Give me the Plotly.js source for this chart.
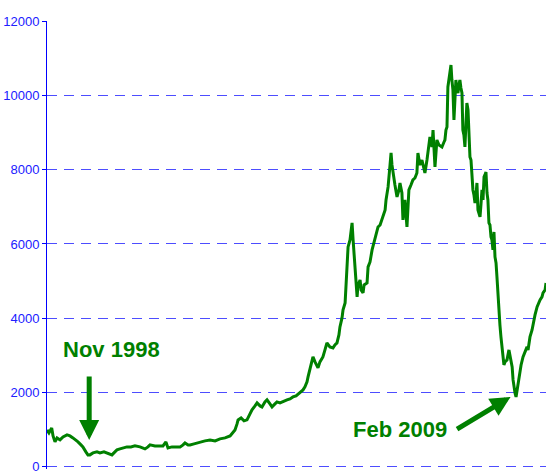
<!DOCTYPE html>
<html>
<head>
<meta charset="utf-8">
<script src="https://cdn.plot.ly/plotly-3.0.1.min.js"></script>
<style>html,body{margin:0;padding:0;background:#fff;}#chart{width:546px;height:473px;}</style>
</head>
<body>
<div id="chart"></div>
<script>
var dates = ['1997-12-01','1997-12-18','1998-01-11','1998-01-23','1998-02-09','1998-02-27','1998-03-25','1998-04-20','1998-05-25','1998-06-20','1998-07-16','1998-08-11','1998-08-29','1998-09-24','1998-10-11','1998-11-06','1998-11-24','1998-12-11',
'1999-01-07','1999-02-11','1999-03-09','1999-04-13','1999-05-09','1999-06-04','1999-06-22','1999-07-18','1999-08-05','1999-08-31','1999-10-05','1999-10-31','1999-12-05',
'2000-01-09','2000-02-22','2000-03-19','2000-04-06','2000-05-02','2000-05-20','2000-07-02','2000-08-06','2000-09-10','2000-10-06','2000-10-24','2000-11-28',
'2001-01-03','2001-02-07','2001-03-05','2001-03-22','2001-04-18','2001-05-05','2001-06-09','2001-07-05','2001-07-31','2001-09-13','2001-10-27','2001-12-10',
'2002-01-22','2002-03-07','2002-04-20','2002-05-16','2002-06-02','2002-06-20','2002-06-29','2002-07-25','2002-08-20','2002-09-15','2002-10-12','2002-10-29','2002-11-24','2002-12-12',
'2003-01-07','2003-01-24','2003-02-19','2003-03-09','2003-04-04','2003-04-22','2003-05-18','2003-06-04','2003-07-01','2003-08-05','2003-08-31','2003-09-26','2003-10-22','2003-11-18','2003-12-23',
'2004-01-18','2004-02-04','2004-02-22','2004-03-02','2004-03-19','2004-04-14','2004-05-02','2004-05-28','2004-06-14','2004-07-10','2004-07-28','2004-08-14','2004-09-09','2004-10-06','2004-10-23','2004-11-10','2004-11-27','2004-12-06','2004-12-24',
'2005-01-02','2005-01-20','2005-02-06','2005-02-15','2005-03-04','2005-03-13','2005-03-22','2005-03-31','2005-04-08','2005-04-17','2005-04-26','2005-05-05','2005-05-13','2005-05-31','2005-06-09','2005-06-26','2005-07-05','2005-07-31','2005-08-09','2005-08-26','2005-09-13','2005-10-09','2005-11-04','2005-11-22','2005-12-18',
'2006-01-05','2006-01-13','2006-01-31','2006-02-17','2006-02-26','2006-03-06','2006-03-15','2006-04-01','2006-04-19','2006-05-06','2006-05-15','2006-06-01','2006-06-10','2006-06-19','2006-06-27','2006-07-15','2006-07-24','2006-08-01','2006-08-19','2006-09-05','2006-09-23','2006-10-10','2006-10-19','2006-10-28','2006-11-05','2006-11-23','2006-12-11','2006-12-19',
'2007-01-06','2007-01-15','2007-02-01','2007-02-19','2007-02-28','2007-03-17','2007-03-26','2007-04-03','2007-04-21','2007-05-17','2007-06-04','2007-06-12','2007-06-21','2007-06-30','2007-07-08','2007-07-17','2007-08-04','2007-08-12','2007-08-21','2007-08-30','2007-09-07','2007-09-16','2007-09-25','2007-10-04','2007-10-12','2007-10-21','2007-10-30','2007-11-08','2007-11-16','2007-11-25','2007-12-04','2007-12-12','2007-12-21','2007-12-31',
'2008-01-09','2008-01-17','2008-01-26','2008-02-04','2008-02-12','2008-02-21','2008-03-01','2008-03-10','2008-03-18','2008-03-27','2008-04-05','2008-04-14','2008-04-22','2008-05-01','2008-05-10','2008-05-19','2008-05-27','2008-06-05','2008-06-14','2008-06-22','2008-07-01','2008-07-10','2008-07-19','2008-07-27','2008-08-05','2008-08-14','2008-08-23','2008-09-01','2008-09-09','2008-09-18','2008-09-27','2008-10-05','2008-10-14','2008-10-23','2008-11-01','2008-11-09','2008-11-18','2008-12-06','2008-12-23',
'2009-01-02','2009-01-20','2009-01-28','2009-02-06','2009-02-14','2009-02-23','2009-03-04','2009-03-12','2009-03-21','2009-03-30','2009-04-08','2009-04-25','2009-05-13','2009-05-30','2009-06-08','2009-06-25','2009-07-13','2009-07-22','2009-08-08','2009-08-26','2009-09-12','2009-09-21','2009-10-08','2009-10-17','2009-11-04','2009-11-12'];

var values = [995,915,1049,834,673,780,726,807,861,834,780,726,673,592,538,404,323,323,
377,404,377,404,377,350,323,404,457,484,511,538,538,
565,538,511,484,538,592,565,565,565,673,511,538,
538,538,592,646,592,592,619,646,673,700,726,700,
753,780,834,915,995,1157,1265,1318,1238,1265,1453,1534,1641,1722,
1641,1614,1749,1803,1695,1614,1695,1749,1722,1776,1803,1830,1883,1910,1991,
2072,2152,2287,2422,2610,2960,2825,2664,2825,2960,3148,3336,3229,3202,3283,3336,3552,3767,4009,
4224,4413,5220,5919,6108,6377,6565,6108,5704,5381,4762,4574,4897,5031,4762,4682,4897,4951,5381,5516,5839,6188,6457,6511,6727,
6915,7184,7534,8126,8448,8126,7910,7587,7265,7453,7641,7372,6646,7049,7184,6457,7049,7453,7587,7722,7776,7910,8448,8260,8126,8260,7991,7910,
8260,8448,8879,8610,9067,8072,8529,8798,8664,8610,8744,8798,9067,9148,10224,10413,10816,10413,10144,9336,9874,10413,10144,10063,10278,10413,10197,10063,9067,8933,8610,9336,9794,9605,
9067,8341,8260,7803,7453,7318,7103,7318,7641,6915,6834,6727,7049,7453,7184,7803,7857,7937,7372,7184,6565,6511,6188,6108,5839,6323,5650,5489,5112,4574,4036,3821,3498,3283,3067,2744,2825,2879,3148,
2933,2691,2341,2126,1991,1883,2072,2260,2475,2691,2744,2960,3094,3229,3148,3498,3686,3874,4090,4305,4439,4493,4574,4682,4762,4951];

var yTicks = [0,2000,4000,6000,8000,10000,12000];
var xRange = ['1997-12-01','2009-11-12'];

var labelNov = 'Nov 1998';
var labelFeb = 'Feb 2009';
var arrowNov = {date:'1998-12-05', value:726};
var arrowFeb = {date:'2009-01-06', value:1883};

var green = '#008000';

var trace = {
  x: dates, y: values, type:'scatter', mode:'lines',
  line:{color:green, width:3}, hoverinfo:'skip'
};

var layout = {
  width:546, height:473,
  margin:{l:47, r:0, t:21, b:4, pad:0},
  paper_bgcolor:'#ffffff', plot_bgcolor:'#ffffff',
  showlegend:false,
  xaxis:{type:'date', range:xRange, showgrid:false, zeroline:false, showline:false, showticklabels:false, ticks:''},
  yaxis:{range:[-57,12000], tickvals:yTicks, ticktext:yTicks.map(String),
    showgrid:true, gridcolor:'#4d4dff', gridwidth:1, griddash:'10px,7px',
    zeroline:false, showline:true, linecolor:'#0000ff', linewidth:1,
    ticks:'outside', ticklen:4, tickcolor:'#0000ff', tickwidth:1, ticklabeloverflow:'allow',
    tickfont:{family:'"Liberation Sans Narrow", "Liberation Sans", Arial, sans-serif', size:13, color:'#2020ff'}},
  annotations:[
    {xref:'paper', yref:'paper', x:0.1283, y:0.2657, xanchor:'center', yanchor:'middle', showarrow:false,
     text:'<b>'+labelNov+'</b>', font:{family:'"Liberation Sans", Arial, sans-serif', size:22, color:green}},
    {xref:'paper', yref:'paper', x:0.7074, y:0.0881, xanchor:'center', yanchor:'middle', showarrow:false,
     text:'<b>'+labelFeb+'</b>', font:{family:'"Liberation Sans", Arial, sans-serif', size:22, color:green}},
    {x:arrowNov.date, y:arrowNov.value, xref:'x', yref:'y', text:'', showarrow:true,
     ax:0, ay:-65, arrowhead:2, arrowsize:0.8, arrowwidth:5, arrowcolor:green, standoff:0},
    {x:arrowFeb.date, y:arrowFeb.value, xref:'x', yref:'y', text:'', showarrow:true,
     ax:-55, ay:33, arrowhead:2, arrowsize:0.8, arrowwidth:5, arrowcolor:green, standoff:0}
  ]
};

Plotly.newPlot('chart', [trace], layout, {staticPlot:true, displayModeBar:false});
</script>
</body>
</html>
